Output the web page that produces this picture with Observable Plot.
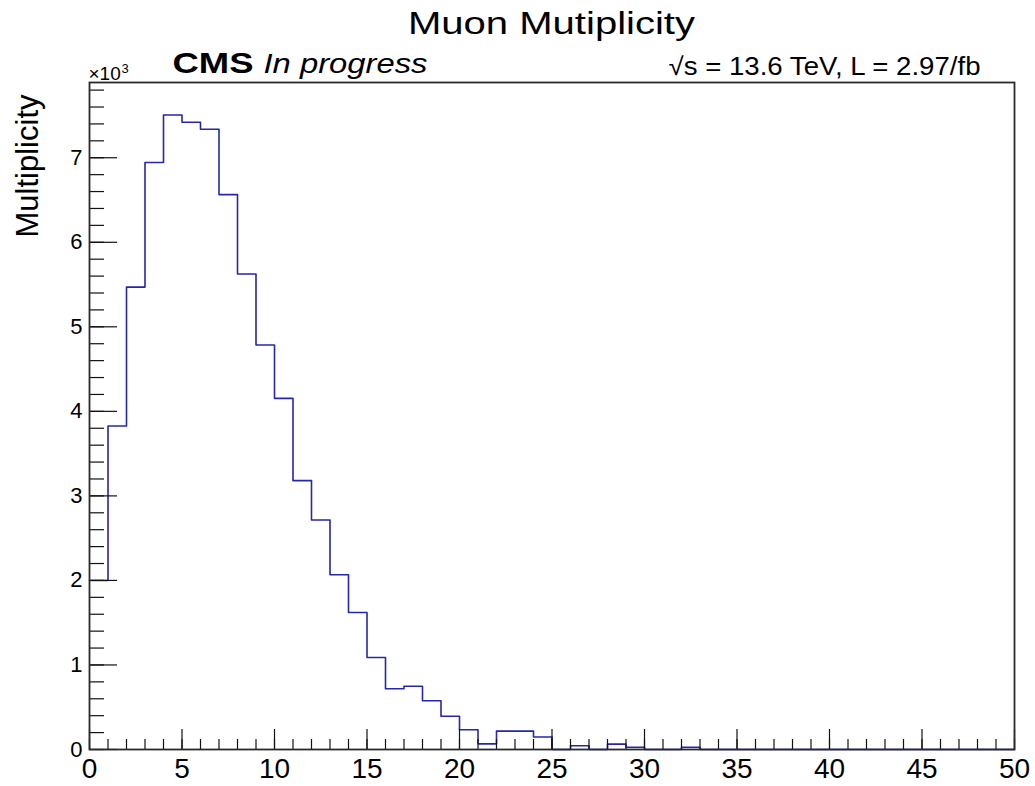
<!DOCTYPE html>
<html>
<head>
<meta charset="utf-8">
<script src="https://cdn.jsdelivr.net/npm/d3@7"></script>
<script src="https://cdn.jsdelivr.net/npm/@observablehq/plot@0.6"></script>
<style>
  body { margin: 0; background: #fff; }
  #chart svg { display: block; }
</style>
</head>
<body>
<div id="chart"></div>
<script>
// ---- data ----
const binLow = [0,1,2,3,4,5,6,7,8,9,10,11,12,13,14,15,16,17,18,19,20,21,22,23,24,25,26,27,28,29,30,31,32,33,34,35,36,37,38,39,40,41,42,43,44,45,46,47,48,49];
const counts = [2000,3826,5470,6943,7505,7420,7337,6564,5625,4785,4154,3180,2714,2067,1621,1089,718,749,576,394,233,67,217,217,148,0,44,0,63,27,0,0,27,0,0,0,0,0,0,0,0,0,0,0,0,0,0,0,0,0];
const xMajorTicks = [0,5,10,15,20,25,30,35,40,45,50];
const xTickLabels = ["0","5","10","15","20","25","30","35","40","45","50"];
const yMajorTicks = [0,1000,2000,3000,4000,5000,6000,7000];
const yTickLabels = ["0","1","2","3","4","5","6","7"];
const titleText = "Muon Mutiplicity";
const yLabelText = "Multiplicity";
const cmsText = "CMS";
const progressText = "In progress";
const lumiText = "\u221As = 13.6 TeV, L = 2.97/fb";
const exponentBase = "\u00D710";
const exponentPower = "3";

// ---- layout ----
const W = 1035, H = 786;
const mL = 89, mR = 21, mT = 82, mB = 37;
const plotW = W - mL - mR, plotH = H - mT - mB;

const xMinor = d3.range(0, 51, 1);
const yMinor = d3.range(0, 7801, 200);

const steps = counts.map((c, i) => ({x: binLow[i], y: c})).concat([{x: 50, y: 0}]);

const font = "'Liberation Sans', Arial, Helvetica, sans-serif";

const chart = Plot.plot({
  width: W,
  height: H,
  marginLeft: mL, marginRight: mR, marginTop: mT, marginBottom: mB,
  style: {fontFamily: font, background: "#fff", color: "#000", overflow: "visible"},
  x: {domain: [0, 50]},
  y: {domain: [0, 7890]},
  marks: [
    Plot.line(steps, {x: "x", y: "y", curve: "step-after", stroke: "#2626ad", strokeWidth: 1.6}),
    Plot.ruleX(xMinor, {x: d => d, insetTop: plotH - 10, stroke: "#111", strokeWidth: 1.2}),
    Plot.ruleX(xMajorTicks, {x: d => d, insetTop: plotH - 20, stroke: "#111", strokeWidth: 1.2}),
    Plot.ruleY(yMinor, {y: d => d, insetRight: plotW - 15, stroke: "#111", strokeWidth: 1.2}),
    Plot.ruleY(yMajorTicks, {y: d => d, insetRight: plotW - 28, stroke: "#111", strokeWidth: 1.2}),
    Plot.frame({stroke: "#2a2a2a", strokeWidth: 1.8}),
    Plot.axisX({ticks: xMajorTicks, tickFormat: d => xTickLabels[xMajorTicks.indexOf(d)], tickSize: 0, tickPadding: 9, fontSize: 28, label: null}),
    Plot.axisY({ticks: yMajorTicks, tickFormat: d => yTickLabels[yMajorTicks.indexOf(d)], tickSize: 0, tickPadding: 7, fontSize: 22, label: null}),
    Plot.text([titleText], {frameAnchor: "top-left", dx: 462, dy: -49, textAnchor: "middle", lineAnchor: "bottom", fontSize: 31, fill: "#000"}),
    Plot.text([cmsText], {frameAnchor: "top-left", dx: 83, dy: -10, textAnchor: "start", lineAnchor: "bottom", fontSize: 30, fontWeight: "bold", fill: "#000"}),
    Plot.text([progressText], {frameAnchor: "top-left", dx: 174, dy: -10, textAnchor: "start", lineAnchor: "bottom", fontSize: 28, fontStyle: "italic", fill: "#000"}),
    Plot.text([lumiText], {frameAnchor: "top-left", dx: 891, dy: -8, textAnchor: "end", lineAnchor: "bottom", fontSize: 25, fill: "#000"}),
    Plot.text([exponentBase], {frameAnchor: "top-left", dx: -1, dy: -3, textAnchor: "start", lineAnchor: "bottom", fontSize: 19, fill: "#000"}),
    Plot.text([exponentPower], {frameAnchor: "top-left", dx: 32, dy: -10, textAnchor: "start", lineAnchor: "bottom", fontSize: 13, fill: "#000"}),
    Plot.text([yLabelText], {frameAnchor: "top-left", dx: -52, dy: 12, rotate: -90, textAnchor: "end", lineAnchor: "bottom", fontSize: 31, fill: "#000"})
  ]
});

document.getElementById("chart").appendChild(chart);

// stretch the wide ROOT-style header texts to their measured widths
const widths = new Map([[titleText, 287], [cmsText, 81], [progressText, 164], [lumiText, 312]]);
d3.select(chart).selectAll("text").each(function() {
  const t = this.textContent;
  if (widths.has(t)) {
    this.setAttribute("textLength", widths.get(t));
    this.setAttribute("lengthAdjust", "spacingAndGlyphs");
  }
});
</script>
</body>
</html>
